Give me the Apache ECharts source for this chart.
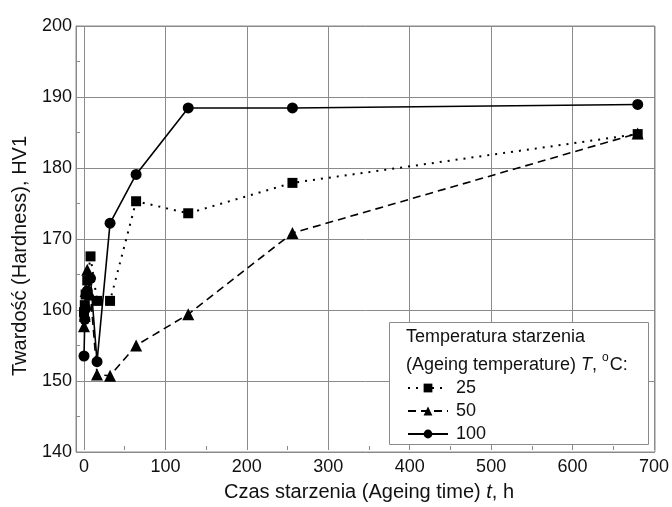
<!DOCTYPE html>
<html>
<head>
<meta charset="utf-8">
<title>Twardość vs czas starzenia</title>
<script src="https://cdn.jsdelivr.net/npm/echarts@6/dist/echarts.min.js"></script>
<style>
  html, body { margin: 0; padding: 0; background: #fff; }
  #chart { width: 672px; height: 507px; }
</style>
</head>
<body>
<div id="chart"></div>
<script>
// czas starzenia, h
const times = [0, 1, 2, 4, 8, 16, 32, 64, 128, 256, 680]
// twardość HV1 dla temperatur 25, 50, 100 °C
const hv25 = [159.5, 160.5, 162, 164, 167.4, 161.1, 161.1, 175.2, 173.5, 177.8, 184.7]
const hv50 = [157.5, 159, 162.5, 165.5, 162, 150.7, 150.5, 154.8, 159.2, 170.7, 184.8]
const hv100 = [153.3, 158.5, 160, 162.5, 164.3, 152.5, 172.1, 179, 188.4, 188.4, 188.9]
const legendNames = ['25', '50', '100']

const FONT = 'Liberation Sans, Arial, sans-serif'
const GRAY = '#8a8a8a'

const pairs = ys => times.map((t, i) => [t, ys[i]])

const lineSeries = (name, ys, symbol, size, width, dash) => ({
  name,
  type: 'line',
  xAxisIndex: 1,
  yAxisIndex: 1,
  data: pairs(ys),
  symbol,
  symbolSize: size,
  color: '#000',
  itemStyle: { color: '#000' },
  lineStyle: { color: '#000', width, type: dash },
  animation: false,
  z: 5
})

const chart = echarts.init(document.getElementById('chart'), null, { renderer: 'canvas' })

chart.setOption({
  backgroundColor: '#fff',
  textStyle: { fontFamily: FONT },
  grid: [
    // ramka + oś Y
    { left: 76, right: 17, top: 26, bottom: 55, show: true, borderColor: GRAY, borderWidth: 1 },
    // obszar danych (0 h przesunięte w prawo od ramki)
    { left: 84, right: 17, top: 26, bottom: 55 }
  ],
  xAxis: [
    { type: 'value', gridIndex: 0, min: 0, max: 1, show: false },
    {
      type: 'value',
      gridIndex: 1,
      min: 0,
      max: 700,
      interval: 100,
      name: 'Czas starzenia (Ageing time) {i|t}, h',
      nameLocation: 'middle',
      nameGap: 32,
      nameTextStyle: {
        fontFamily: FONT, fontSize: 20, color: '#111',
        rich: { i: { fontFamily: FONT, fontSize: 20, fontStyle: 'italic', color: '#111' } }
      },
      axisLine: { show: false },
      axisTick: { inside: true, length: 5, lineStyle: { color: GRAY } },
      minorTick: { show: true, splitNumber: 2, length: 4, lineStyle: { color: GRAY } },
      splitLine: { show: true, lineStyle: { color: GRAY, width: 1 } },
      axisLabel: { fontFamily: FONT, fontSize: 18, color: '#111', margin: 8 }
    }
  ],
  yAxis: [
    {
      type: 'value',
      gridIndex: 0,
      min: 140,
      max: 200,
      interval: 10,
      name: 'Twardość (Hardness), HV1',
      nameLocation: 'middle',
      nameGap: 46,
      nameTextStyle: { fontFamily: FONT, fontSize: 20, color: '#111', padding: [0, 34, 0, 0] },
      axisLine: { show: true, lineStyle: { color: GRAY } },
      axisTick: { inside: true, length: 5, lineStyle: { color: GRAY } },
      minorTick: { show: true, splitNumber: 2, length: 4, lineStyle: { color: GRAY } },
      splitLine: { show: true, lineStyle: { color: GRAY, width: 1 } },
      axisLabel: { fontFamily: FONT, fontSize: 18, color: '#111', margin: 4 }
    },
    { type: 'value', gridIndex: 1, min: 140, max: 200, show: false }
  ],
  title: {
    left: 406,
    top: 323,
    padding: 0,
    z: 20,
    text: '{a|Temperatura starzenia}\n{a|(Ageing temperature) }{i|T}{a|, }{s|o}{a|C:}',
    textStyle: {
      fontWeight: 'normal',
      rich: {
        a: { fontFamily: FONT, fontSize: 18, fontWeight: 'normal', color: '#111', lineHeight: 28 },
        i: { fontFamily: FONT, fontSize: 18, fontWeight: 'normal', fontStyle: 'italic', color: '#111', lineHeight: 28 },
        s: { fontFamily: FONT, fontSize: 12, fontWeight: 'normal', color: '#111', lineHeight: 28, padding: [0, 1, 14, 0] }
      }
    }
  },
  legend: {
    data: legendNames,
    orient: 'vertical',
    left: 407,
    top: 379,
    padding: 0,
    itemWidth: 40,
    itemHeight: 11,
    itemGap: 5,
    z: 20,
    textStyle: { fontFamily: FONT, fontSize: 18, color: '#111', padding: [0, 0, 0, 3] }
  },
  graphic: [
    {
      type: 'rect',
      z: 10,
      shape: { x: 389.5, y: 322.5, width: 259, height: 122 },
      style: { fill: '#fff', stroke: GRAY, lineWidth: 1 }
    }
  ],
  series: [
    lineSeries('25', hv25, 'rect', 10, 2, [2, 6]),
    lineSeries('100', hv100, 'circle', 11, 1.6, 'solid'),
    lineSeries('50', hv50, 'triangle', 12, 1.6, [8, 5])
  ]
})
</script>
</body>
</html>
